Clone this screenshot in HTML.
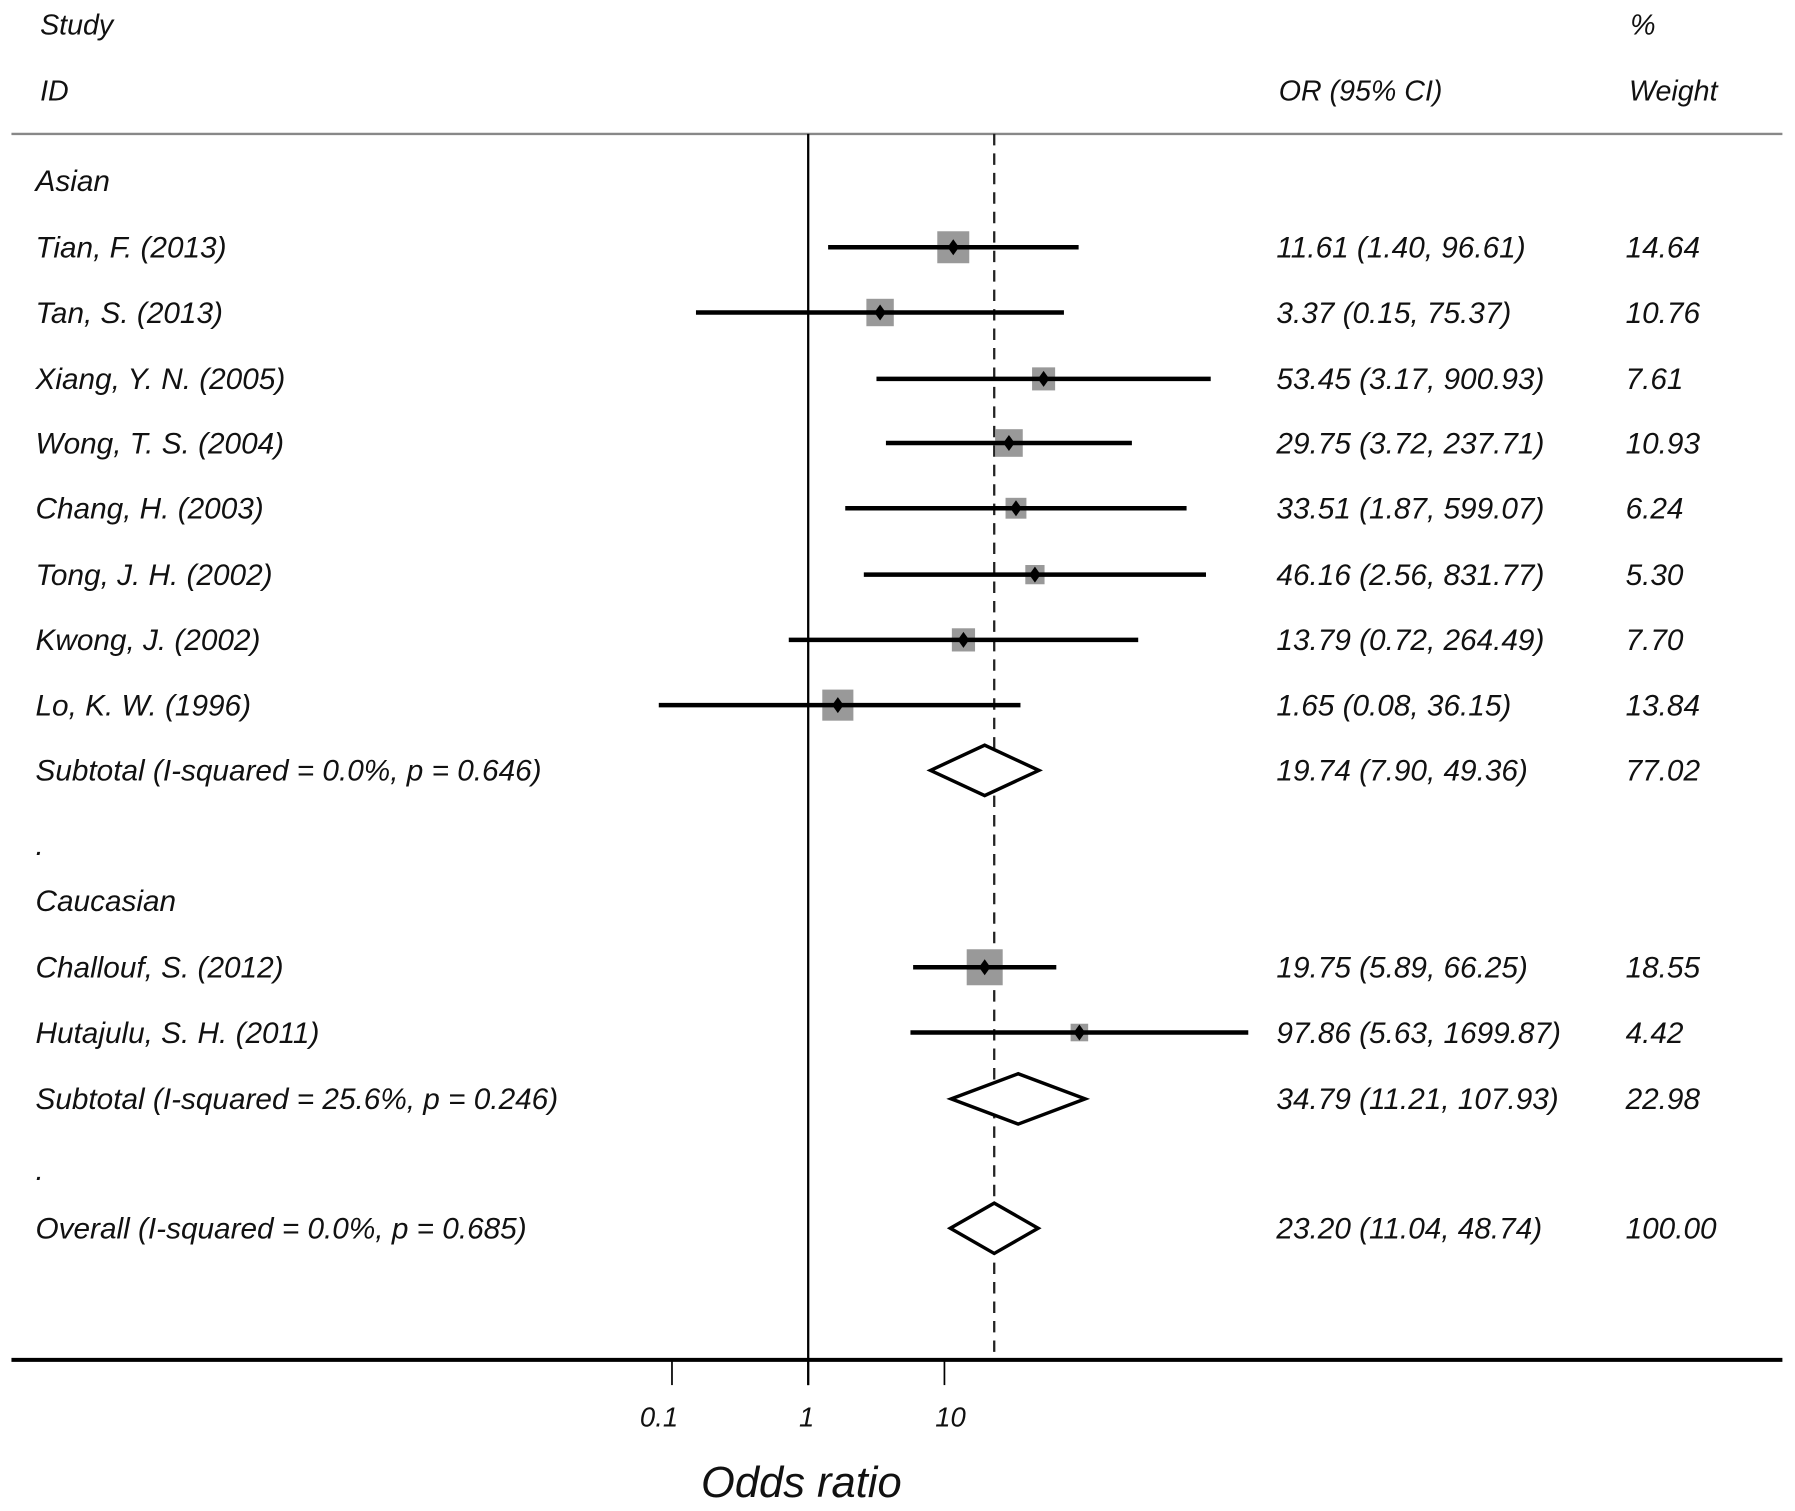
<!DOCTYPE html>
<html><head><meta charset="utf-8"><style>
html,body{margin:0;padding:0;background:#fff;}
svg{display:block;}
text{font-family:"Liberation Sans",sans-serif;font-style:italic;fill:#111;}
</style></head><body>
<svg id="chart" width="1795" height="1511" viewBox="0 0 1568 1320" preserveAspectRatio="none" xmlns="http://www.w3.org/2000/svg">
<g id="static">
<text x="35" y="30" font-size="25">Study</text>
<text x="35" y="88" font-size="25">ID</text>
<text x="1117" y="88" font-size="25">OR (95% CI)</text>
<text x="1424" y="30" font-size="25">%</text>
<text x="1423" y="88" font-size="25">Weight</text>
<line x1="10" y1="117" x2="1557" y2="117" stroke="#888" stroke-width="2"/>
<text x="700" y="1308" font-size="38" text-anchor="middle">Odds ratio</text>
</g>
<g id="plot"></g>
</svg>
<script>
const labels=["Asian","Tian, F. (2013)","Tan, S. (2013)","Xiang, Y. N. (2005)","Wong, T. S. (2004)","Chang, H. (2003)","Tong, J. H. (2002)","Kwong, J. (2002)","Lo, K. W. (1996)","Subtotal  (I-squared = 0.0%, p = 0.646)",".","Caucasian","Challouf, S. (2012)","Hutajulu, S. H. (2011)","Subtotal  (I-squared = 25.6%, p = 0.246)",".","Overall  (I-squared = 0.0%, p = 0.685)"];
const kinds=["group","study","study","study","study","study","study","study","study","sub","dot","group","study","study","sub","dot","overall"];
const rowY=[158,216,273,331,387,444,502,559,616,673,738,787,845,902,960,1022,1073];
const orVals=[null,11.61,3.37,53.45,29.75,33.51,46.16,13.79,1.65,19.74,null,null,19.75,97.86,34.79,null,23.20];
const ciLow=[null,1.40,0.15,3.17,3.72,1.87,2.56,0.72,0.08,7.90,null,null,5.89,5.63,11.21,null,11.04];
const ciHigh=[null,96.61,75.37,900.93,237.71,599.07,831.77,264.49,36.15,49.36,null,null,66.25,1699.87,107.93,null,48.74];
const weights=[null,14.64,10.76,7.61,10.93,6.24,5.30,7.70,13.84,77.02,null,null,18.55,4.42,22.98,null,100.00];
const tickVals=[0.1,1,10];
const tickLabels=["0.1","1","10"];
const overallOR=23.20;

const NS="http://www.w3.org/2000/svg";
const g=document.getElementById('plot');
function xs(v){return 706+119*Math.log10(v);}
function mk(tag,attrs){const e=document.createElementNS(NS,tag);for(const k in attrs)e.setAttribute(k,attrs[k]);g.appendChild(e);return e;}
const axisY=1188, topY=117;

let e=mk('line',{x1:xs(1),y1:topY,x2:xs(1),y2:axisY+22,stroke:'#000','stroke-width':2});


e=mk('line',{x1:xs(overallOR),y1:topY,x2:xs(overallOR),y2:axisY,stroke:'#222','stroke-width':2,'stroke-dasharray':'10,7'});


e=mk('line',{x1:10,y1:axisY,x2:1557,y2:axisY,stroke:'#000','stroke-width':3.5});


tickVals.forEach((v,i)=>{
  let t=mk('line',{x1:xs(v),y1:axisY,x2:xs(v),y2:axisY+22,stroke:'#000','stroke-width':1.5});
  
  
  let l=mk('text',{x:xs(v)-8+(i==0?-20:0),y:1246,'font-size':24});
  l.textContent=tickLabels[i];
  
  
});

labels.forEach((lab,i)=>{
  const y=rowY[i];
  let t=mk('text',{x:31,y:y+9,'font-size':26});
  t.textContent=lab;
  
  
  if(orVals[i]==null)return;
  let o=mk('text',{x:1115,y:y+9,'font-size':26});
  o.textContent=orVals[i].toFixed(2)+" ("+ciLow[i].toFixed(2)+", "+ciHigh[i].toFixed(2)+")";
  
  
  let w=mk('text',{x:1420,y:y+9,'font-size':26});
  w.textContent=weights[i].toFixed(2);
  
  
  if(kinds[i]==='study'){
    const s=7.3*Math.sqrt(weights[i]);
    let sq=mk('rect',{x:xs(orVals[i])-s/2,y:y-s/2,width:s,height:s,fill:'#999'});
    
    
    let ci=mk('line',{x1:xs(ciLow[i]),y1:y,x2:xs(ciHigh[i]),y2:y,stroke:'#000','stroke-width':4});
    
    
    const cx=xs(orVals[i]);
    let p=mk('polygon',{points:`${cx},${y-7} ${cx+5},${y} ${cx},${y+7} ${cx-5},${y}`,fill:'#000'});
    
    
  } else {
    const a=xs(ciLow[i]),b=xs(ciHigh[i]),c=xs(orVals[i]);
    let d=mk('polygon',{points:`${a},${y} ${c},${y-22} ${b},${y} ${c},${y+22}`,fill:'#fff',stroke:'#000','stroke-width':3});
    
    
  }
});
</script>
</body></html>
